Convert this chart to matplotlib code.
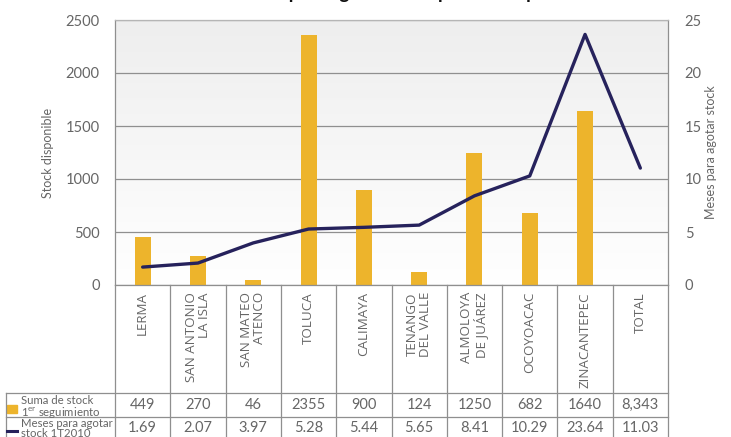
import numpy as np
import matplotlib
matplotlib.use("Agg")
import matplotlib.pyplot as plt
from matplotlib.patches import Rectangle
from matplotlib.lines import Line2D

# ---- data -------------------------------------------------------------
municipios = ["LERMA", "SAN ANTONIO\nLA ISLA", "SAN MATEO\nATENCO", "TOLUCA",
              "CALIMAYA", "TENANGO\nDEL VALLE", "ALMOLOYA\nDE JUÁREZ",
              "OCOYOACAC", "ZINACANTEPEC", "TOTAL"]
stock = [449, 270, 46, 2355, 900, 124, 1250, 682, 1640, 8343]
meses = [1.69, 2.07, 3.97, 5.28, 5.44, 5.65, 8.41, 10.29, 23.64, 11.03]
stock_ticks = [0, 500, 1000, 1500, 2000, 2500]
meses_ticks = [0, 5, 10, 15, 20, 25]
serie_stock = "Suma de stock\n1$^{\\mathrm{er}}$ seguimiento"
serie_meses = "Meses para agotar\nstock 1T2010"
titulo = "Meses para agotar stock por municipio"

# ---- style ------------------------------------------------------------
plt.rcParams["font.family"] = ["Lato", "DejaVu Sans"]
plt.rcParams["mathtext.fontset"] = "custom"
plt.rcParams["mathtext.rm"] = "Lato"
GOLD = "#EDB42C"
NAVY = "#26225C"
GRAY_TXT = "#666666"
GRID = "#8f8f8f"

W, H = 731, 437
fig = plt.figure(figsize=(W / 100, H / 100), dpi=100)

# plot box in pixel units
L, R, T, B = 115, 668, 20, 285
col_px = (R - L) / len(municipios)

# gradient background of the plot area
bg = fig.add_axes([L / W, 1 - B / H, (R - L) / W, (B - T) / H], zorder=0)
grad = np.linspace(0, 1, 256).reshape(-1, 1)
bg.imshow(grad, aspect="auto", cmap=matplotlib.colors.LinearSegmentedColormap.from_list(
    "g", ["#eeeeee", "#ffffff"]), extent=[0, 1, 0, 1])
bg.axis("off")

ax = fig.add_axes([L / W, 1 - B / H, (R - L) / W, (B - T) / H], zorder=1)
ax.patch.set_visible(False)
x = np.arange(len(municipios))

ax.bar(x[:-1], stock[:-1], width=0.29, color=GOLD, zorder=2)
ax.set_xlim(-0.5, len(municipios) - 0.5)
ax.set_ylim(stock_ticks[0], stock_ticks[-1])
ax.set_yticks(stock_ticks)
ax.set_xticks([])
ax.yaxis.grid(True, color=GRID, lw=0.9)
ax.set_axisbelow(True)
ax.tick_params(axis="y", length=0, pad=11, labelsize=10.5, labelcolor=GRAY_TXT)
for s in ax.spines.values():
    s.set_color(GRID)
    s.set_linewidth(0.9)
ax.spines["top"].set_color("#b5b5b5")
ax.set_ylabel("Stock disponible", fontsize=9, color=GRAY_TXT, labelpad=8)

ax2 = ax.twinx()
ax2.plot(x, meses, color=NAVY, lw=2.4, solid_joinstyle="round",
         solid_capstyle="round", zorder=3)
ax2.set_ylim(meses_ticks[0], meses_ticks[-1])
ax2.set_yticks(meses_ticks)
ax2.tick_params(axis="y", length=0, pad=12, labelsize=10.5, labelcolor=GRAY_TXT)
for s in ax2.spines.values():
    s.set_visible(False)
ax2.set_ylabel("Meses para agotar stock", fontsize=9, color=GRAY_TXT, labelpad=2)

# title (sits at the very top edge)
fig.text((L + R) / 2 / W, 1 + 1.0 / H, titulo, ha="center", va="baseline",
         fontsize=13.5, fontweight="bold", color="#111111")

# ---- data table below the plot -------------------------------------
tax = fig.add_axes([L / W, 0, (R - L) / W, (H - B) / H], zorder=1)
tax.set_xlim(-0.5, len(municipios) - 0.5)
tax.set_ylim(H, B)
tax.axis("off")

x_left = -0.5 - (L - 6) / col_px
row1_top, row2_top = 393, 417
line_kw = dict(color=GRID, lw=0.9, clip_on=False)

for k in range(len(municipios) + 1):
    tax.add_line(Line2D([k - 0.5, k - 0.5], [B, H], **line_kw))
tax.add_line(Line2D([x_left, len(municipios) - 0.5], [row1_top, row1_top], **line_kw))
tax.add_line(Line2D([x_left, len(municipios) - 0.5], [row2_top, row2_top], **line_kw))
tax.add_line(Line2D([x_left, x_left], [row1_top, H], **line_kw))

for i, name in enumerate(municipios):
    tax.text(i, 292, name, rotation=90, ha="center", va="top",
             multialignment="right", fontsize=9.6, color=GRAY_TXT,
             linespacing=1.0, family=["Open Sans", "DejaVu Sans"])
    txt = f"{stock[i]:,}" if name == "TOTAL" else str(stock[i])
    tax.text(i, 405, txt, ha="center", va="center", fontsize=10.5, color=GRAY_TXT)
    tax.text(i, 428, f"{meses[i]:.2f}", ha="center", va="center",
             fontsize=10.5, color=GRAY_TXT)

# row headers with series keys
px = lambda p: -0.5 + (p - L) / col_px
tax.add_patch(Rectangle((px(7), 405), px(17) - px(7), 8, color=GOLD, clip_on=False))
tax.add_line(Line2D([px(7), px(17)], [431, 431], color=NAVY, lw=2.2, clip_on=False))
tax.text(px(21), 394.5, serie_stock, ha="left", va="top", fontsize=8.2,
         color=GRAY_TXT, linespacing=0.95)
tax.text(px(21), 418.0, serie_meses, ha="left", va="top", fontsize=8.2,
         color=GRAY_TXT, linespacing=0.92)

fig.savefig("out.png", dpi=100)
